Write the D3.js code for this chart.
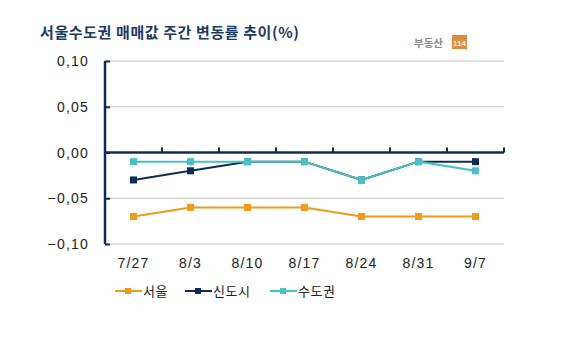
<!DOCTYPE html>
<html><head><meta charset="utf-8">
<script src="https://cdn.jsdelivr.net/npm/d3@7"></script>
<style>
body{margin:0;background:#fff;}
svg{display:block;}
</style></head>
<body>
<svg id="chart" width="562" height="339"></svg>
<script>
const categories = ["7/27","8/3","8/10","8/17","8/24","8/31","9/7"];
const seoul   = [-0.07,-0.06,-0.06,-0.06,-0.07,-0.07,-0.07];
const newtown = [-0.03,-0.02,-0.01,-0.01,-0.03,-0.01,-0.01];
const metro   = [-0.01,-0.01,-0.01,-0.01,-0.03,-0.01,-0.02];
const seriesNames = ["서울","신도시","수도권"];
const seriesColors = ["#f29b16","#0f2c59","#47c1c5"];
const yTicks = [0.10,0.05,0.00,-0.05,-0.10];
const yTickLabels = ["0,10","0,05","0,00","−0,05","−0,10"];
const title = "서울수도권 매매값 주간 변동률 추이(%)";

const svg = d3.select("#chart");
const L=105,R=504,T=61,B=244;
const x = d3.scaleBand().domain(categories).range([L,R]);
const y = d3.scaleLinear().domain([-0.10,0.10]).range([B,T]);
const navy="#0f2c59";
const font="'Liberation Sans', Arial, sans-serif";

// title
svg.append("text").attr("x",40).attr("y",38).text(title)
  .attr("font-family","'Noto Sans CJK KR', sans-serif").attr("font-weight","bold")
  .attr("font-size",15).attr("letter-spacing",0.6).attr("fill","#1c3a66");

// logo
const lg = svg.append("g");
lg.append("text").attr("x",414).attr("y",47).text("부동산")
  .attr("font-family","'Noto Sans CJK KR', sans-serif").attr("font-weight","bold")
  .attr("font-size",10.5).attr("fill","#8a8a8a");
lg.append("rect").attr("x",452).attr("y",35).attr("width",15).attr("height",14).attr("fill","#e08a3a");
lg.append("text").attr("x",459.5).attr("y",46).text("114").attr("text-anchor","middle")
  .attr("font-family",font).attr("font-weight","bold").attr("font-size",8).attr("fill","#fff");

// gridlines
svg.append("g").selectAll("line").data(yTicks.filter(d=>d!==0)).join("line")
  .attr("x1",L).attr("x2",R).attr("y1",d=>y(d)).attr("y2",d=>y(d))
  .attr("stroke","#c4c4c4").attr("stroke-width",1);

// y axis
const yAxis = d3.axisRight(y).tickValues(yTicks).tickSize(5).tickFormat("");
const ya = svg.append("g").attr("transform",`translate(${L},0)`).call(yAxis);
ya.select(".domain").attr("stroke",navy).attr("stroke-width",2.5).attr("d",`M0,${T}V${B}`);
ya.selectAll(".tick line").attr("stroke",navy).attr("stroke-width",2);

svg.append("g").selectAll("text").data(yTicks).join("text")
  .attr("x",89).attr("y",d=>y(d)+5).attr("text-anchor","end")
  .attr("font-family",font).attr("font-size",14).attr("letter-spacing",1.2)
  .attr("fill","#222").text((d,i)=>yTickLabels[i]);

// x axis at zero with ticks upward at band boundaries
svg.append("line").attr("x1",L).attr("x2",R).attr("y1",y(0)).attr("y2",y(0))
  .attr("stroke",navy).attr("stroke-width",2.5);
svg.append("g").selectAll("line").data(categories.slice(1).concat(["end"])).join("line")
  .attr("x1",(d,i)=> i<categories.length-1 ? x(d) : R)
  .attr("x2",(d,i)=> i<categories.length-1 ? x(d) : R)
  .attr("y1",y(0)).attr("y2",y(0)-5).attr("stroke",navy).attr("stroke-width",2);

svg.append("g").selectAll("text").data(categories).join("text")
  .attr("x",d=>x(d)+x.bandwidth()/2).attr("y",268).attr("text-anchor","middle")
  .attr("font-family",font).attr("font-size",14).attr("letter-spacing",1.2)
  .attr("fill","#222").text(d=>d);

// series
const data = [seoul,newtown,metro];
const line = d3.line().x((d,i)=>x(categories[i])+x.bandwidth()/2).y(d=>y(d));
data.forEach((vals,si)=>{
  const g = svg.append("g");
  g.append("path").attr("d",line(vals)).attr("fill","none")
    .attr("stroke",seriesColors[si]).attr("stroke-width",2);
  g.selectAll("rect").data(vals).join("rect")
    .attr("x",(d,i)=>x(categories[i])+x.bandwidth()/2-3.5)
    .attr("y",d=>y(d)-3.5).attr("width",7).attr("height",7)
    .attr("fill",seriesColors[si]);
});

// legend
const legX=[115,185,270];
seriesNames.forEach((n,i)=>{
  const g = svg.append("g");
  g.append("line").attr("x1",legX[i]).attr("x2",legX[i]+27).attr("y1",291).attr("y2",291)
    .attr("stroke",seriesColors[i]).attr("stroke-width",2);
  g.append("rect").attr("x",legX[i]+10).attr("y",288).attr("width",6).attr("height",6).attr("fill",seriesColors[i]);
  g.append("text").attr("x",legX[i]+28).attr("y",296).text(n)
    .attr("font-family","'Noto Sans CJK KR', sans-serif").attr("font-size",13).attr("letter-spacing",0.5).attr("fill","#222");
});
</script>
</body></html>
